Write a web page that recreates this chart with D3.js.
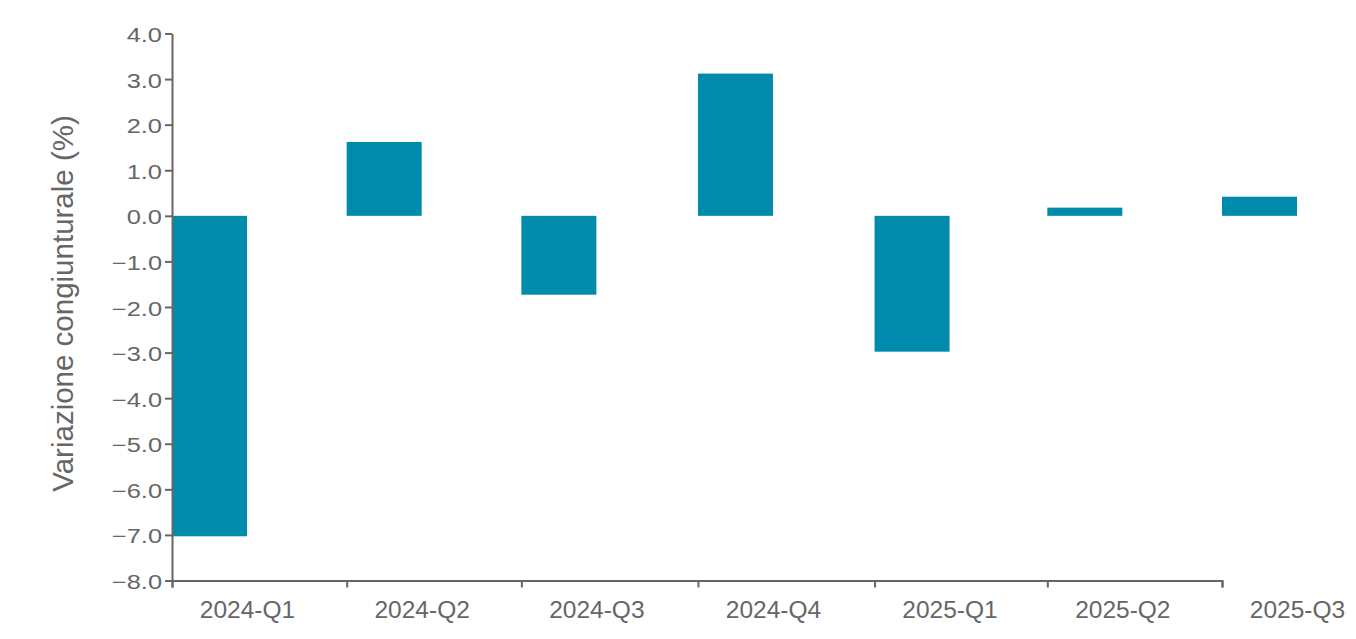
<!DOCTYPE html>
<html>
<head>
<meta charset="utf-8">
<script src="https://cdn.jsdelivr.net/npm/d3@7"></script>
<style>
  html, body { margin: 0; padding: 0; background: #ffffff; }
  svg { display: block; font-family: "Liberation Sans", Arial, sans-serif; }
</style>
</head>
<body>
<svg id="chart" width="1356" height="639"></svg>
<script>
const categories = ["2024-Q1", "2024-Q2", "2024-Q3", "2024-Q4", "2025-Q1", "2025-Q2", "2025-Q3"];
const values = [-7.03, 1.62, -1.73, 3.12, -2.98, 0.18, 0.42];
const yTicks = [4, 3, 2, 1, 0, -1, -2, -3, -4, -5, -6, -7, -8];
const yTitle = "Variazione congiunturale (%)";

(function () {
const svg = d3.select("#chart");
const mLeft = 172, mRight = 1222, mTop = 33.5, mBottom = 580.5;
const barW = 75;
const barColor = "#008bac";
const textColor = "#666666";
const axisColor = "#666666";

// quarter label -> start date of the quarter
const qDate = s => { const [yy, q] = s.split("-Q"); return new Date(Date.UTC(+yy, (+q - 1) * 3, 1)); };
const dates = categories.map(qDate);

const x = d3.scaleUtc().domain([dates[0], dates[dates.length - 1]]).range([mLeft, mRight]);
const y = d3.scaleLinear().domain([-8, 4]).range([mBottom, mTop]);

// bars
svg.append("g").selectAll("rect").data(categories).join("rect")
  .attr("x", (d, i) => x(dates[i]))
  .attr("width", barW)
  .attr("y", (d, i) => y(Math.max(0, values[i])))
  .attr("height", (d, i) => Math.abs(y(values[i]) - y(0)))
  .attr("fill", barColor);

// y axis
const yAxis = svg.append("g")
  .attr("transform", `translate(${mLeft},0)`)
  .call(d3.axisLeft(y).tickValues(yTicks).tickFormat(d3.format(".1f")).tickSize(7).tickSizeOuter(0));
yAxis.select(".domain").attr("stroke", axisColor).attr("stroke-width", 2);
yAxis.selectAll(".tick line").attr("stroke", axisColor).attr("stroke-width", 2);
yAxis.selectAll(".tick text")
  .attr("fill", textColor).attr("font-size", 20).attr("x", -10).attr("dy", "0.4em")
  .attr("font-family", "Liberation Sans, Arial, sans-serif")
  .each(function () {
    const w = this.getComputedTextLength();
    d3.select(this).attr("textLength", w * 1.27).attr("lengthAdjust", "spacingAndGlyphs");
  });

// x axis
const xAxis = svg.append("g")
  .attr("transform", `translate(0,${mBottom})`)
  .call(d3.axisBottom(x).tickValues(dates).tickFormat((d, i) => categories[i]).tickSize(7).tickSizeOuter(7));
xAxis.select(".domain").attr("stroke", axisColor).attr("stroke-width", 2);
xAxis.selectAll(".tick line").attr("stroke", axisColor).attr("stroke-width", 2);
xAxis.selectAll(".tick text")
  .attr("fill", textColor).attr("font-size", 24.5).attr("x", barW).attr("y", 20)
  .attr("font-family", "Liberation Sans, Arial, sans-serif");

// y title
svg.append("text")
  .attr("transform", `translate(73,${(110 + 497) / 2}) rotate(-90)`)
  .attr("text-anchor", "middle")
  .attr("fill", textColor)
  .attr("font-size", 29.5)
  .text(yTitle);
})();
</script>
</body>
</html>
